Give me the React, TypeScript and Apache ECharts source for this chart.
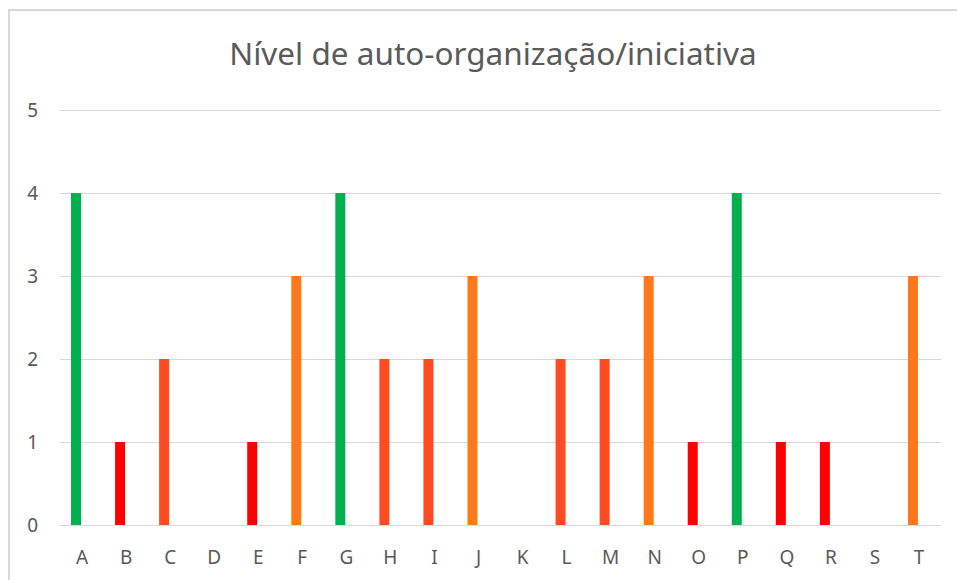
import React, { useEffect, useRef } from "react";
import * as echarts from "echarts";

const categories = ["A", "B", "C", "D", "E", "F", "G", "H", "I", "J", "K", "L", "M", "N", "O", "P", "Q", "R", "S", "T"];
const values = [4, 1, 2, 0, 1, 3, 4, 2, 2, 3, 0, 2, 2, 3, 1, 4, 1, 1, 0, 3];
const yTicks = [0, 1, 2, 3, 4, 5];
const title = "Nível de auto-organização/iniciativa";

const levelColors: Record<number, string> = {
  1: "#FF0000",
  2: "#FF4A22",
  3: "#FF781C",
  4: "#00B050",
};

export default function App() {
  const ref = useRef<HTMLDivElement>(null);
  useEffect(() => {
    if (!ref.current) return;
    const chart = echarts.init(ref.current, null, { renderer: "svg" });
    const font = "'Noto Sans', 'Open Sans', sans-serif";
    chart.setOption({
      animation: false,
      backgroundColor: "#ffffff",
      title: {
        text: title,
        left: 488,
        textAlign: "center",
        top: 31,
        textStyle: { fontFamily: font, fontSize: 31.5, fontWeight: "normal", color: "#5A5A5A" },
      },
      graphic: [
        {
          type: "rect",
          shape: { x: 9, y: 10, width: 980, height: 620 },
          style: { fill: "none", stroke: "#D9D9D9", lineWidth: 2 },
          silent: true,
        },
      ],
      grid: { left: 60, right: 16, top: 110, bottom: 55 },
      xAxis: {
        type: "category",
        data: categories,
        axisLine: { show: true, lineStyle: { color: "#D9D9D9", width: 1 } },
        axisTick: { show: false },
        axisLabel: { color: "#595959", fontFamily: font, fontSize: 19, margin: 22 },
      },
      yAxis: {
        type: "value",
        min: yTicks[0],
        max: yTicks[yTicks.length - 1],
        interval: 1,
        axisLine: { show: false },
        axisTick: { show: false },
        splitLine: { lineStyle: { color: "#D9D9D9", width: 1 } },
        axisLabel: { color: "#595959", fontFamily: font, fontSize: 19, margin: 22 },
      },
      series: [
        {
          type: "bar",
          barWidth: 10,
          barGap: 0,
          data: values.map((v) => ({
            value: v,
            itemStyle: { color: levelColors[v] || "#FF0000" },
          })),
        },
        {
          type: "bar",
          barWidth: 12,
          barGap: 0,
          data: categories.map(() => "-"),
          itemStyle: { color: "transparent" },
        },
      ],
    });
    return () => chart.dispose();
  }, []);
  return (
    <div
      ref={ref}
      style={{ position: "fixed", left: 0, top: 0, width: 957, height: 580 }}
    />
  );
}
